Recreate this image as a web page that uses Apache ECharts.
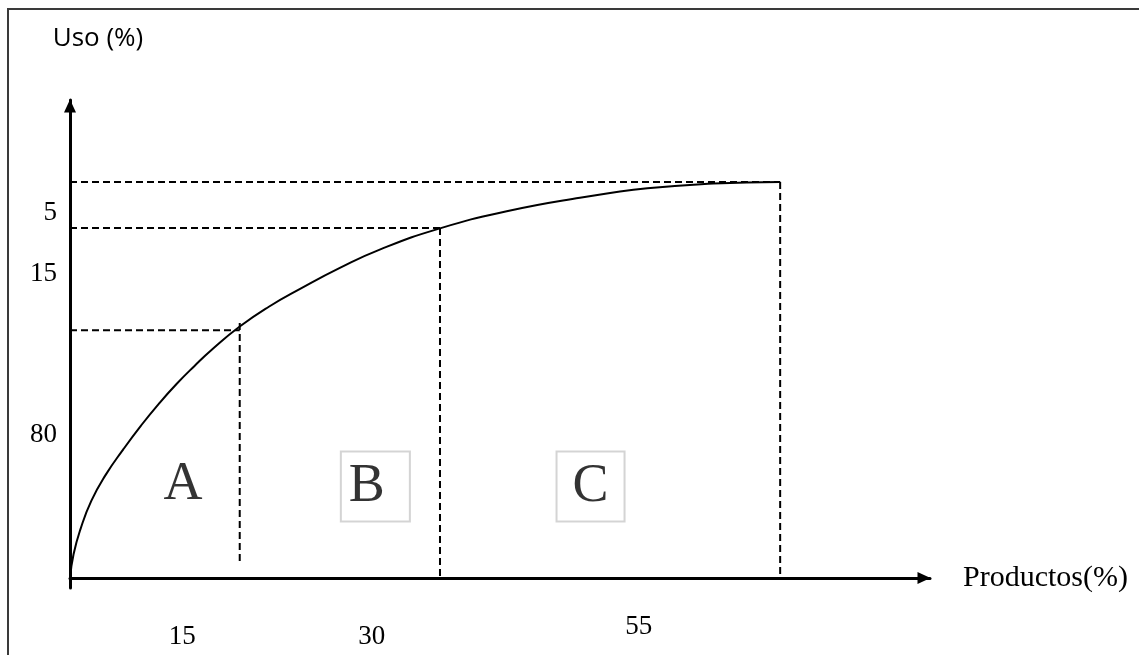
<!DOCTYPE html>
<html>
<head>
<meta charset="utf-8">
<script src="https://cdn.jsdelivr.net/npm/echarts@6/dist/echarts.min.js"></script>
<style>
  html, body { margin: 0; padding: 0; background: #fff; }
  #chart { width: 1139px; height: 655px; }
</style>
</head>
<body>
<div id="chart"></div>
<script>
// curva ABC: % productos (x) contra % uso acumulado (y)
var curveX = [0, 0.5, 1.5, 3, 5, 7.5, 10, 12.5, 15, 17.5, 20, 23.9, 28, 32.4, 38, 43.7, 52.1, 61.5, 71.8, 81.3, 90.6, 100];
var curveY = [0, 6, 12.5, 19.5, 26, 32.5, 38.5, 44, 49, 53.5, 57.7, 63.5, 68.5, 73, 78.3, 83, 88.3, 92.6, 96, 98.4, 99.6, 100];

// cortes de las zonas A / B / C
var cutX = [23.9, 52.1, 100];
var cutY = [62.6, 88.4, 100];
var cutTop = [64.4, 88.4, 100];
var cutBottom = [3.3, 0, 0];

// etiquetas de los ejes
var yTickValues = [92.2, 76.8, 36.1];
var yTickLabels = ['5', '15', '80'];
var xTickValues = [15.8, 42.5, 80.1];
var xTickLabels = ['15', '30', '55'];

// letras de las zonas
var zoneNames = ['A', 'B', 'C'];
var zoneX = [15.9, 43.0, 73.3];
var zoneY = [23.5, 23.1, 23.1];

var SERIF = '"Liberation Serif", "Times New Roman", serif';

var chart = echarts.init(document.getElementById('chart'), null, { renderer: 'canvas' });

var series = [];

// lineas punteadas
for (var i = 0; i < cutX.length; i++) {
    var dashStyle = { color: '#000', width: 2, type: [7, 4] };
    series.push({
        type: 'line', silent: true, symbol: 'none', lineStyle: dashStyle, z: 1,
        data: [[0, cutY[i]], [cutX[i], cutY[i]]]
    });
    series.push({
        type: 'line', silent: true, symbol: 'none', lineStyle: dashStyle, z: 1,
        data: [[cutX[i], cutTop[i]], [cutX[i], cutBottom[i]]]
    });
}

// curva
series.push({
    type: 'line',
    silent: true,
    symbol: 'none',
    smooth: 0.5,
    lineStyle: { color: '#000', width: 2 },
    z: 3,
    data: curveX.map(function(x, k) { return [x, curveY[k]]; })
});

// letras A, B, C
series.push({
    type: 'scatter',
    silent: true,
    symbolSize: 0,
    z: 4,
    data: zoneNames.map(function(n, k) { return { name: n, value: [zoneX[k], zoneY[k]] }; }),
    label: {
        show: true,
        position: 'inside',
        color: '#000',
        formatter: function(p) {
            if (p.name === 'A') return '{a|A}';
            if (p.name === 'B') return '{b|B}';
            return '{c|C}';
        },
        rich: {
            a: { fontFamily: SERIF, fontSize: 54, color: '#000', lineHeight: 54 },
            b: {
                fontFamily: SERIF, fontSize: 54, color: '#000', lineHeight: 54,
                borderColor: '#c9c9c9', borderWidth: 2, padding: [8, 25, 8, 8]
            },
            c: {
                fontFamily: SERIF, fontSize: 54, color: '#000', lineHeight: 54,
                borderColor: '#c9c9c9', borderWidth: 2, padding: [8, 16, 8, 16]
            }
        }
    }
});

chart.setOption({
    animation: false,
    backgroundColor: '#fff',
    graphic: [{
        type: 'rect',
        silent: true,
        shape: { x: 8, y: 9, width: 1150, height: 670 },
        style: { fill: 'none', stroke: '#3a3a3a', lineWidth: 2 }
    }],
    grid: { left: 70, top: 100, width: 860, bottom: 67 },
    xAxis: {
        type: 'value',
        min: 0,
        max: 121.1,
        name: 'Productos(%)',
        nameLocation: 'end',
        nameGap: 33,
        nameTextStyle: { fontFamily: SERIF, fontSize: 30, color: '#000', verticalAlign: 'middle', padding: [4, 0, 0, 0] },
        axisLine: {
            show: true,
            onZero: true,
            symbol: ['none', 'triangle'],
            symbolSize: [12, 13],
            symbolOffset: [0, -6],
            lineStyle: { color: '#000', width: 3 }
        },
        axisTick: { show: false },
        splitLine: { show: false },
        axisLabel: {
            customValues: xTickValues,
            margin: 24,
            formatter: function(v) {
                var idx = xTickValues.indexOf(v);
                var t = idx >= 0 ? xTickLabels[idx] : '';
                return t === '55' ? '{hi|' + t + '}' : '{lo|' + t + '}';
            },
            rich: {
                lo: { fontFamily: SERIF, fontSize: 27, color: '#000', lineHeight: 50 },
                hi: { fontFamily: SERIF, fontSize: 27, color: '#000', lineHeight: 30 }
            }
        }
    },
    yAxis: {
        type: 'value',
        min: -2.5,
        max: 120.7,
        name: 'Uso (%)',
        nameLocation: 'end',
        nameGap: 48,
        nameTextStyle: { fontFamily: '"Open Sans", "Noto Sans", sans-serif', fontSize: 26, color: '#000', padding: [0, 0, 0, 56] },
        axisLine: {
            show: true,
            onZero: false,
            symbol: ['none', 'triangle'],
            symbolSize: [12, 13],
            symbolOffset: [0, -6],
            lineStyle: { color: '#000', width: 3 }
        },
        axisTick: { show: false },
        splitLine: { show: false },
        axisLabel: {
            customValues: yTickValues,
            margin: 13,
            fontFamily: SERIF,
            fontSize: 27,
            color: '#000',
            formatter: function(v) {
                var idx = yTickValues.indexOf(v);
                return idx >= 0 ? yTickLabels[idx] : '';
            }
        }
    },
    series: series
});
</script>
</body>
</html>
